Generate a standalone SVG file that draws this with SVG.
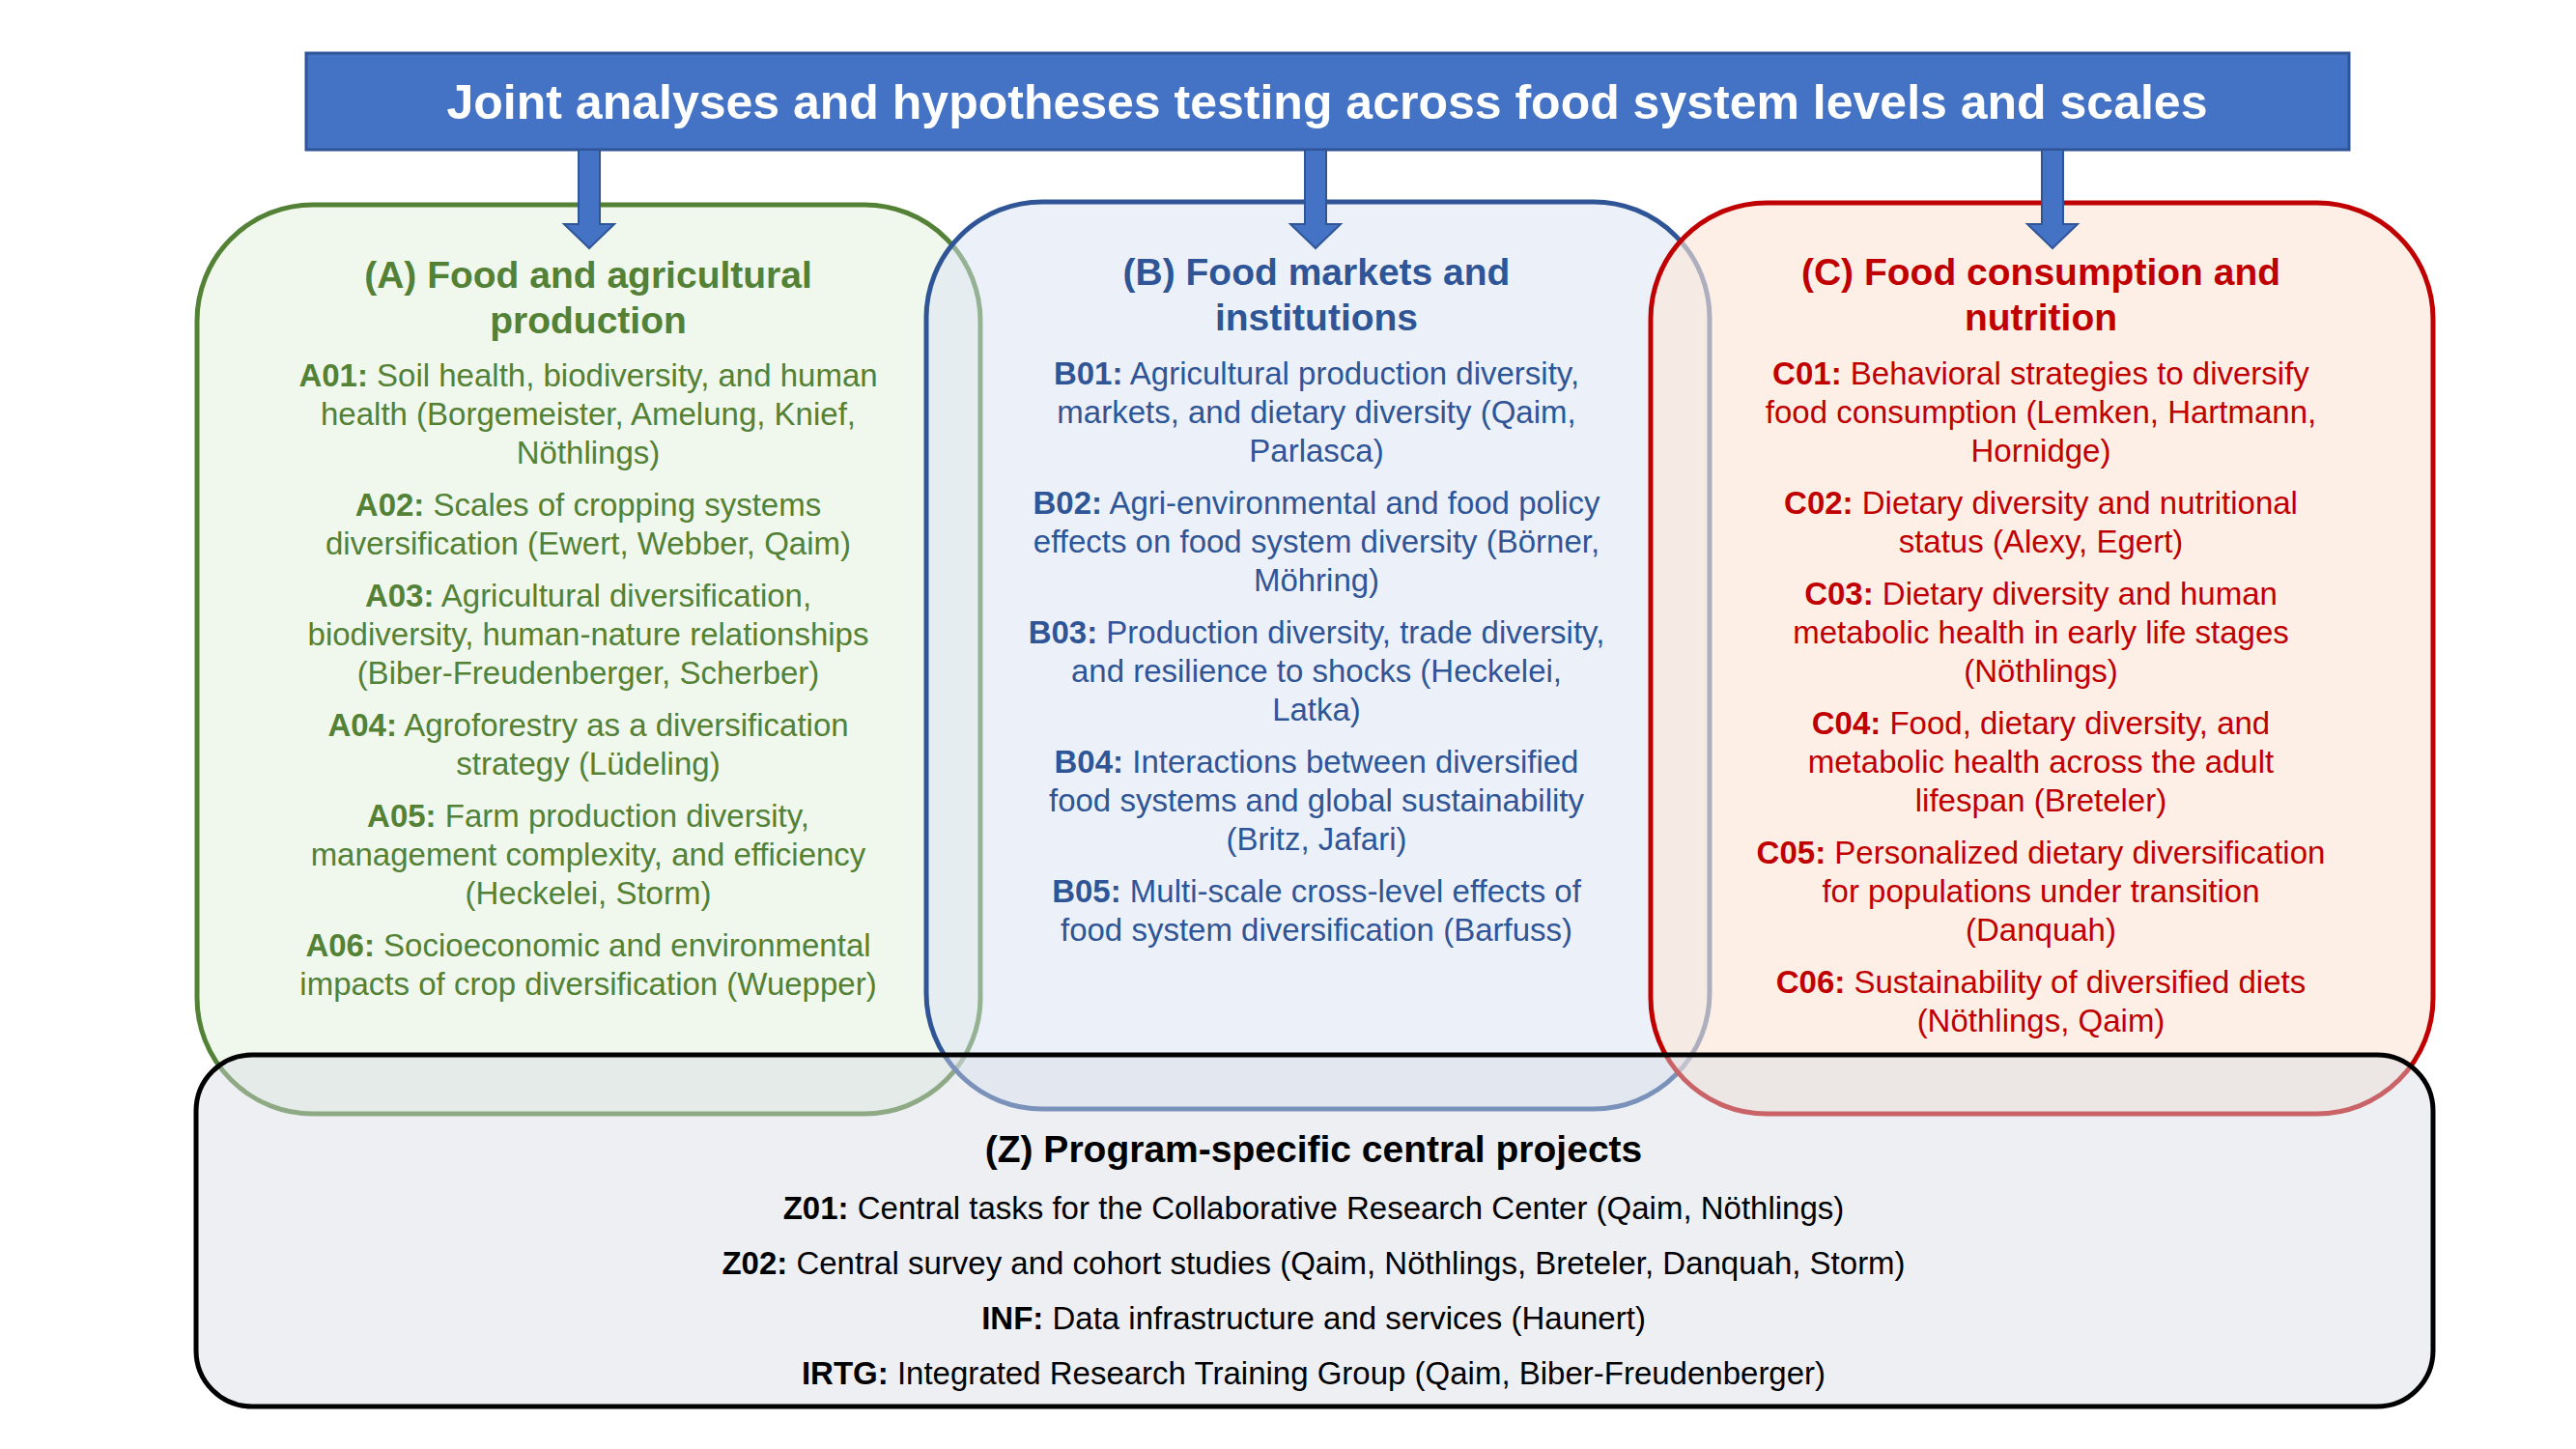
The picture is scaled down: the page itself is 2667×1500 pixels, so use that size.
<svg xmlns="http://www.w3.org/2000/svg" width="2667" height="1500" viewBox="0 0 2667 1500">
<style>
text{font-family:"Liberation Sans",Arial,sans-serif;text-anchor:middle}
.h{font-size:39px;font-weight:bold}
.i{font-size:33px}
.b{font-weight:bold}
.ta{fill:#538135}.tb{fill:#2F5597}.tc{fill:#C00000}.tz{fill:#000}
.box{stroke-width:5}
.arrow{fill:#4472C4;stroke:#2F5597;stroke-width:2}
</style>
<rect width="2667" height="1500" fill="#fff"/>
<g id="title">
<rect x="317" y="55" width="2115" height="100" fill="#4472C4" stroke="#2F5597" stroke-width="3"/>
<text x="1374" y="123" style="font-size:50px;font-weight:bold;fill:#fff">Joint analyses and hypotheses testing across food system levels and scales</text>
</g>
<g id="boxA">
<rect class="box" x="204" y="212" width="811" height="941" rx="120" fill="#E2EFDA" fill-opacity="0.5" stroke="#538135"/>
</g>
<g id="boxB">
<rect class="box" x="959" y="209" width="811" height="939" rx="120" fill="#DAE3F3" fill-opacity="0.5" stroke="#2F5597"/>
</g>
<g id="boxC">
<rect class="box" x="1709" y="210" width="810" height="943" rx="120" fill="#FBE5D6" fill-opacity="0.62" stroke="#C00000"/>
</g>
<g id="boxZ">
<rect class="box" x="203" y="1092" width="2316" height="364" rx="58" fill="#D6DCE5" fill-opacity="0.45" stroke="#000"/>
</g>
<g id="connectors">
<polygon class="arrow" points="599,155 621,155 621,232 636,232 610,257 584,232 599,232"/>
<polygon class="arrow" points="1351,155 1373,155 1373,232 1388,232 1362,257 1336,232 1351,232"/>
<polygon class="arrow" points="2114,155 2136,155 2136,232 2151,232 2125,257 2099,232 2114,232"/>
</g>
<g id="textA" class="ta">
<text class="h" x="609" y="298">(A) Food and agricultural</text>
<text class="h" x="609" y="345">production</text>
<text class="i" x="609" y="400"><tspan class="b">A01:</tspan> Soil health, biodiversity, and human</text>
<text class="i" x="609" y="440">health (Borgemeister, Amelung, Knief,</text>
<text class="i" x="609" y="480">Nöthlings)</text>
<text class="i" x="609" y="534"><tspan class="b">A02:</tspan> Scales of cropping systems</text>
<text class="i" x="609" y="574">diversification (Ewert, Webber, Qaim)</text>
<text class="i" x="609" y="628"><tspan class="b">A03:</tspan> Agricultural diversification,</text>
<text class="i" x="609" y="668">biodiversity, human-nature relationships</text>
<text class="i" x="609" y="708">(Biber-Freudenberger, Scherber)</text>
<text class="i" x="609" y="762"><tspan class="b">A04:</tspan> Agroforestry as a diversification</text>
<text class="i" x="609" y="802">strategy (Lüdeling)</text>
<text class="i" x="609" y="856"><tspan class="b">A05:</tspan> Farm production diversity,</text>
<text class="i" x="609" y="896">management complexity, and efficiency</text>
<text class="i" x="609" y="936">(Heckelei, Storm)</text>
<text class="i" x="609" y="990"><tspan class="b">A06:</tspan> Socioeconomic and environmental</text>
<text class="i" x="609" y="1030">impacts of crop diversification (Wuepper)</text>
</g>
<g id="textB" class="tb">
<text class="h" x="1363" y="295">(B) Food markets and</text>
<text class="h" x="1363" y="342">institutions</text>
<text class="i" x="1363" y="398"><tspan class="b">B01:</tspan> Agricultural production diversity,</text>
<text class="i" x="1363" y="438">markets, and dietary diversity (Qaim,</text>
<text class="i" x="1363" y="478">Parlasca)</text>
<text class="i" x="1363" y="532"><tspan class="b">B02:</tspan> Agri-environmental and food policy</text>
<text class="i" x="1363" y="572">effects on food system diversity (Börner,</text>
<text class="i" x="1363" y="612">Möhring)</text>
<text class="i" x="1363" y="666"><tspan class="b">B03:</tspan> Production diversity, trade diversity,</text>
<text class="i" x="1363" y="706">and resilience to shocks (Heckelei,</text>
<text class="i" x="1363" y="746">Latka)</text>
<text class="i" x="1363" y="800"><tspan class="b">B04:</tspan> Interactions between diversified</text>
<text class="i" x="1363" y="840">food systems and global sustainability</text>
<text class="i" x="1363" y="880">(Britz, Jafari)</text>
<text class="i" x="1363" y="934"><tspan class="b">B05:</tspan> Multi-scale cross-level effects of</text>
<text class="i" x="1363" y="974">food system diversification (Barfuss)</text>
</g>
<g id="textC" class="tc">
<text class="h" x="2113" y="295">(C) Food consumption and</text>
<text class="h" x="2113" y="342">nutrition</text>
<text class="i" x="2113" y="398"><tspan class="b">C01:</tspan> Behavioral strategies to diversify</text>
<text class="i" x="2113" y="438">food consumption (Lemken, Hartmann,</text>
<text class="i" x="2113" y="478">Hornidge)</text>
<text class="i" x="2113" y="532"><tspan class="b">C02:</tspan> Dietary diversity and nutritional</text>
<text class="i" x="2113" y="572">status (Alexy, Egert)</text>
<text class="i" x="2113" y="626"><tspan class="b">C03:</tspan> Dietary diversity and human</text>
<text class="i" x="2113" y="666">metabolic health in early life stages</text>
<text class="i" x="2113" y="706">(Nöthlings)</text>
<text class="i" x="2113" y="760"><tspan class="b">C04:</tspan> Food, dietary diversity, and</text>
<text class="i" x="2113" y="800">metabolic health across the adult</text>
<text class="i" x="2113" y="840">lifespan (Breteler)</text>
<text class="i" x="2113" y="894"><tspan class="b">C05:</tspan> Personalized dietary diversification</text>
<text class="i" x="2113" y="934">for populations under transition</text>
<text class="i" x="2113" y="974">(Danquah)</text>
<text class="i" x="2113" y="1028"><tspan class="b">C06:</tspan> Sustainability of diversified diets</text>
<text class="i" x="2113" y="1068">(Nöthlings, Qaim)</text>
</g>
<g id="textZ" class="tz">
<text class="h" x="1360" y="1203">(Z) Program-specific central projects</text>
<text class="i" x="1360" y="1262"><tspan class="b">Z01:</tspan> Central tasks for the Collaborative Research Center (Qaim, Nöthlings)</text>
<text class="i" x="1360" y="1319"><tspan class="b">Z02:</tspan> Central survey and cohort studies (Qaim, Nöthlings, Breteler, Danquah, Storm)</text>
<text class="i" x="1360" y="1376"><tspan class="b">INF:</tspan> Data infrastructure and services (Haunert)</text>
<text class="i" x="1360" y="1433"><tspan class="b">IRTG:</tspan> Integrated Research Training Group (Qaim, Biber-Freudenberger)</text>
</g>
</svg>
